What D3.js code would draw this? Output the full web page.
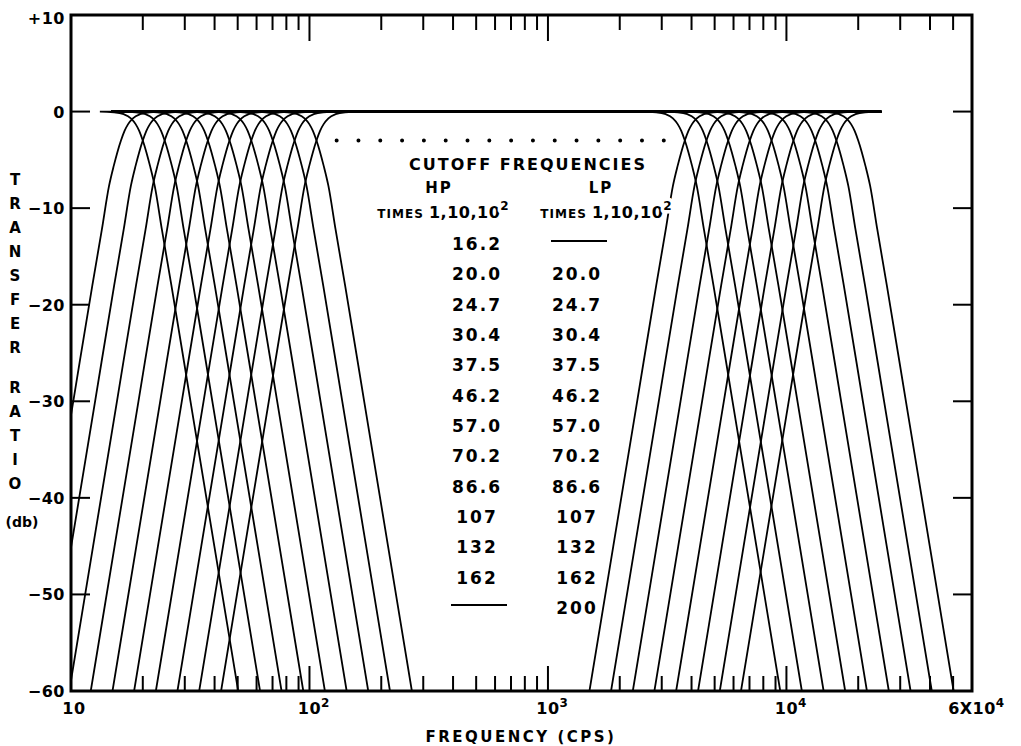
<!DOCTYPE html>
<html>
<head>
<meta charset="utf-8">
<script src="https://cdn.jsdelivr.net/npm/d3@7"></script>
<style>
body{margin:0;background:#fff}
text{font-family:"DejaVu Sans",sans-serif;font-weight:bold;fill:#000}
</style>
</head>
<body>
<div id="chart"></div>
<script>
// cutoff table, base values (switch times 1, 10, 10^2)
var hpTable = ["16.2","20.0","24.7","30.4","37.5","46.2","57.0","70.2","86.6","107","132","162",null];
var lpTable = [null,"20.0","24.7","30.4","37.5","46.2","57.0","70.2","86.6","107","132","162","200"];

// curves on the plot: low group (times 1) and high group (times 10^2)
var hpLow = [16.2,20.0,24.7,30.4,37.5,46.2,57.0,70.2,86.6,107];
var lpLow = [20.0,24.7,30.4,37.5,46.2,57.0,70.2,86.6,107];
var hpHigh = [3750,4620,5700,7020,8660,10700,13200,16200];
var lpHigh = [3750,4620,5700,7020,8660,10700,13200,16200,20000];

// high-pass response: [decades from cutoff, db]
var hpShape = [[-0.40,-60],[-0.30,-45],[-0.20,-30],[-0.12,-18],[-0.08,-12.2],[-0.05,-7.7],
  [-0.03,-5.6],[-0.015,-4.2],[0,-3],[0.015,-2.0],[0.03,-1.3],[0.05,-0.7],[0.08,-0.27],
  [0.12,-0.07],[0.18,0]];
var passStart = 14.7, passEnd = 25000;   // ends of the 0 db line
var refLevel = -3, refStart = 130, refEnd = 3060;   // dotted -3 db line

var yTicks = [10,0,-10,-20,-30,-40,-50,-60];
var xLabels = [["10",""],["10","2"],["10","3"],["10","4"],["6X10","4"]];
var xLabelFreqs = [10,100,1000,10000,60000];
var yTitle1 = ["T","R","A","N","S","F","E","R"];
var yTitle2 = ["R","A","T","I","O"];

var width = 1021, height = 746;
var plotL = 71, plotR = 972, plotT = 15, plotB = 691;

var svg = d3.select("#chart").append("svg")
  .attr("width", width).attr("height", height);

var x = d3.scaleLog().domain([10, 60000]).range([plotL, plotR]);
var y = d3.scaleLinear().domain([10, -60]).range([plotT, plotB]);

svg.append("clipPath").attr("id", "plotclip")
  .append("rect").attr("x", plotL).attr("y", plotT - 2)
  .attr("width", plotR - plotL).attr("height", plotB - plotT + 2);

var line = d3.line()
  .x(function(d){ return x(d[0]); })
  .y(function(d){ return y(d[1]); })
  .curve(d3.curveMonotoneX);

function highPass(c){
  var pts = hpShape.map(function(p){ return [c * Math.pow(10, p[0]), p[1]]; });
  pts.push([passEnd, 0]);
  return pts;
}
function lowPass(c){
  var pts = hpShape.slice().reverse().map(function(p){ return [c * Math.pow(10, -p[0]), p[1]]; });
  pts.unshift([passStart, 0]);
  return pts;
}

var curves = [];
hpLow.forEach(function(c){ curves.push(highPass(c)); });
lpLow.forEach(function(c){ curves.push(lowPass(c)); });
hpHigh.forEach(function(c){ curves.push(highPass(c)); });
lpHigh.forEach(function(c){ curves.push(lowPass(c)); });

var g = svg.append("g").attr("clip-path", "url(#plotclip)");
g.selectAll("path.curve").data(curves).enter().append("path")
  .attr("class", "curve")
  .attr("d", line)
  .attr("fill", "none")
  .attr("stroke", "#000")
  .attr("stroke-width", 1.8);

// dotted reference line
svg.append("line")
  .attr("x1", x(refStart)).attr("x2", x(refEnd))
  .attr("y1", y(refLevel)).attr("y2", y(refLevel))
  .attr("stroke", "#000").attr("stroke-width", 4)
  .attr("stroke-linecap", "round")
  .attr("stroke-dasharray", "0," + ((x(refEnd) - x(refStart)) / 15));

// ticks
var allTicks = x.ticks().filter(function(f){ return f > 10 && f < 60000; });
function isDecade(f){ return Math.abs(Math.log10(f) - Math.round(Math.log10(f))) < 1e-6; }

svg.selectAll("line.xtick").data(allTicks).enter().append("line")
  .attr("x1", function(d){ return x(d); }).attr("x2", function(d){ return x(d); })
  .attr("y1", plotT).attr("y2", function(d){ return plotT + (isDecade(d) ? 26 : 15); })
  .attr("stroke", "#000").attr("stroke-width", 2);
svg.selectAll("line.xtickb").data(allTicks).enter().append("line")
  .attr("x1", function(d){ return x(d); }).attr("x2", function(d){ return x(d); })
  .attr("y1", plotB).attr("y2", function(d){ return plotB - (isDecade(d) ? 25 : 15); })
  .attr("stroke", "#000").attr("stroke-width", 2);

var innerY = yTicks.filter(function(v){ return v < 10 && v > -60; });
svg.selectAll("line.ytl").data(innerY).enter().append("line")
  .attr("x1", plotL).attr("x2", plotL + 19)
  .attr("y1", function(d){ return y(d); }).attr("y2", function(d){ return y(d); })
  .attr("stroke", "#000").attr("stroke-width", 2);
svg.selectAll("line.ytr").data(innerY).enter().append("line")
  .attr("x1", plotR).attr("x2", plotR - 19)
  .attr("y1", function(d){ return y(d); }).attr("y2", function(d){ return y(d); })
  .attr("stroke", "#000").attr("stroke-width", 2);

// frame
svg.append("rect")
  .attr("x", plotL).attr("y", plotT)
  .attr("width", plotR - plotL).attr("height", plotB - plotT)
  .attr("fill", "none").attr("stroke", "#000").attr("stroke-width", 3);

// y labels
svg.selectAll("text.ylab").data(yTicks).enter().append("text")
  .attr("x", 65)
  .attr("y", function(d){ return y(d) + (d === 10 ? 9 : 6); })
  .attr("text-anchor", "end")
  .attr("font-size", 16)
  .attr("letter-spacing", 0.5)
  .text(function(d){ return d > 0 ? "+" + d : (d < 0 ? "\u2212" + (-d) : "0"); });

// x labels
xLabels.forEach(function(lab, i){
  var t = svg.append("text")
    .attr("y", 714)
    .attr("font-size", 16)
    .attr("letter-spacing", 0.5);
  t.append("tspan").text(lab[0]);
  if (lab[1]) t.append("tspan").attr("font-size", 12).attr("dy", -7).text(lab[1]);
  var baseW = t.select("tspan").node().getComputedTextLength();
  t.attr("x", x(xLabelFreqs[i]) - baseW / 2 + (i === 0 ? 3 : 0));
});

svg.append("text")
  .attr("x", 521).attr("y", 742)
  .attr("text-anchor", "middle")
  .attr("font-size", 15)
  .attr("letter-spacing", 2.5)
  .text("FREQUENCY (CPS)");

// y title
svg.selectAll("text.yt1").data(yTitle1).enter().append("text")
  .attr("x", 15).attr("y", function(d, i){ return 185 + i * 24; })
  .attr("text-anchor", "middle").attr("font-size", 15)
  .text(function(d){ return d; });
svg.selectAll("text.yt2").data(yTitle2).enter().append("text")
  .attr("x", 15).attr("y", function(d, i){ return 393 + i * 24; })
  .attr("text-anchor", "middle").attr("font-size", 15)
  .text(function(d){ return d; });
svg.append("text")
  .attr("x", 22).attr("y", 527)
  .attr("text-anchor", "middle").attr("font-size", 14)
  .text("(db)");

// cutoff table
var tbl = svg.append("g")
  .attr("stroke", "#fff").attr("stroke-width", 7)
  .attr("paint-order", "stroke").attr("stroke-linejoin", "round");

tbl.append("text")
  .attr("x", 528).attr("y", 170)
  .attr("text-anchor", "middle").attr("font-size", 16)
  .attr("letter-spacing", 2)
  .text("CUTOFF FREQUENCIES");
tbl.append("text").attr("x", 439).attr("y", 193)
  .attr("text-anchor", "middle").attr("font-size", 15).attr("letter-spacing", 2)
  .text("HP");
tbl.append("text").attr("x", 601).attr("y", 193)
  .attr("text-anchor", "middle").attr("font-size", 15).attr("letter-spacing", 2)
  .text("LP");

[443, 606].forEach(function(cx){
  var t = tbl.append("text").attr("x", cx).attr("y", 218)
    .attr("text-anchor", "middle");
  t.append("tspan").attr("font-size", 12).attr("letter-spacing", 1).text("TIMES ");
  t.append("tspan").attr("font-size", 16).attr("letter-spacing", 0.5).text("1,10,10");
  t.append("tspan").attr("font-size", 12).attr("dy", -8).text("2");
});

var rowY = d3.scaleLinear().domain([0, 12]).range([250, 614]);
[[hpTable, 477], [lpTable, 577]].forEach(function(col){
  col[0].forEach(function(v, i){
    if (v) {
      tbl.append("text").attr("x", col[1]).attr("y", rowY(i))
        .attr("text-anchor", "middle").attr("font-size", 17)
        .attr("letter-spacing", 2)
        .text(v);
    } else {
      svg.append("line")
        .attr("x1", col[1] - 26).attr("x2", col[1] + 30)
        .attr("y1", rowY(i) - 9).attr("y2", rowY(i) - 9)
        .attr("stroke", "#000").attr("stroke-width", 2);
    }
  });
});
</script>
</body>
</html>
